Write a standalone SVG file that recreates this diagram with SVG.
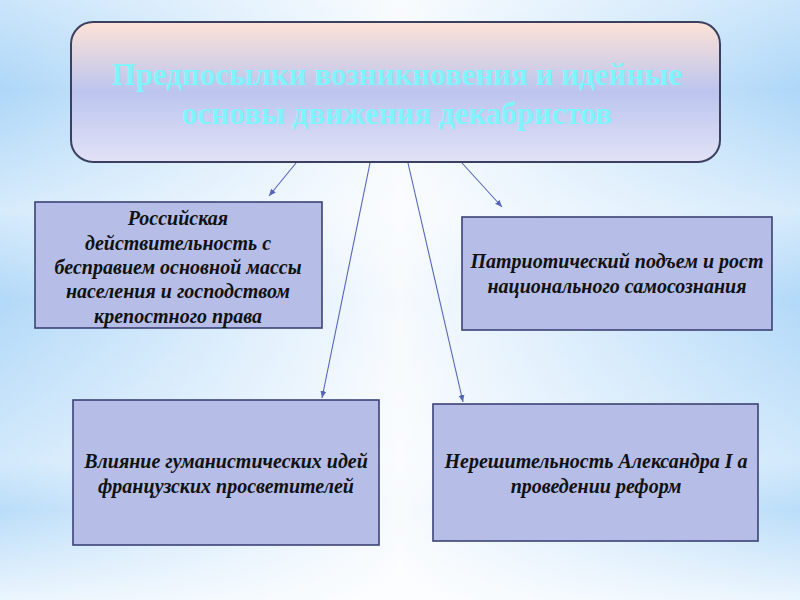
<svg xmlns="http://www.w3.org/2000/svg" width="800" height="600" viewBox="0 0 800 600">
  <defs>
    <linearGradient id="bgH" x1="0" y1="0" x2="1" y2="0">
      <stop offset="0" stop-color="#aed7f8"/>
      <stop offset="0.5" stop-color="#f6fafe"/>
      <stop offset="1" stop-color="#aed7f8"/>
    </linearGradient>
    <linearGradient id="bgV" x1="0" y1="0" x2="0" y2="1">
      <stop offset="0" stop-color="#ffffff" stop-opacity="0.35"/>
      <stop offset="0.15" stop-color="#ffffff" stop-opacity="0"/>
      <stop offset="0.35" stop-color="#ffffff" stop-opacity="0.5"/>
      <stop offset="0.5" stop-color="#ffffff" stop-opacity="0.05"/>
      <stop offset="0.77" stop-color="#ffffff" stop-opacity="0.45"/>
      <stop offset="0.85" stop-color="#ffffff" stop-opacity="0.15"/>
      <stop offset="1" stop-color="#ffffff" stop-opacity="0.75"/>
    </linearGradient>
    <linearGradient id="mainFill" x1="0" y1="0" x2="0" y2="1">
      <stop offset="0" stop-color="#fde2d6"/>
      <stop offset="0.5" stop-color="#bcc5ef"/>
      <stop offset="1" stop-color="#e2e2f6"/>
    </linearGradient>
    <marker id="arr" markerWidth="8" markerHeight="8" refX="7" refY="4" orient="auto" markerUnits="userSpaceOnUse">
      <path d="M0,1 L7,4 L0,7 Z" fill="#5566b8"/>
    </marker>
    <style>
      .box { fill: #b6bee7; stroke: #3c4376; stroke-width: 1.6; }
      .t { font-family: "Liberation Serif", "Times New Roman", serif; font-style: italic; font-weight: bold; font-size: 20px; fill: #111111; text-anchor: middle; }
      .title { font-family: "Liberation Serif", "Times New Roman", serif; font-weight: bold; font-size: 31px; fill: #80f4fb; text-anchor: middle; }
      .conn { stroke: #5566b8; stroke-width: 1.1; fill: none; marker-end: url(#arr); }
    </style>
  </defs>

  <rect x="0" y="0" width="800" height="600" fill="url(#bgH)"/>
  <rect x="0" y="0" width="800" height="600" fill="url(#bgV)"/>

  <g id="main">
    <rect x="71" y="22" width="649" height="140" rx="22" ry="22" fill="url(#mainFill)" stroke="#3c4060" stroke-width="2"/>
    <text class="title" x="397" y="85">Предпосылки возникновения и идейные</text>
    <text class="title" x="397" y="124">основы движения декабристов</text>
  </g>

  <g id="connectors">
    <line class="conn" x1="296" y1="163" x2="269" y2="196"/>
    <line class="conn" x1="370" y1="163" x2="322" y2="398"/>
    <line class="conn" x1="408" y1="163" x2="463" y2="402"/>
    <line class="conn" x1="462" y1="163" x2="502" y2="207"/>
  </g>

  <g id="n1">
    <rect class="box" x="35" y="202" width="287" height="126"/>
    <text class="t" x="178" y="225">Российская</text>
    <text class="t" x="178" y="250">действительность с</text>
    <text class="t" x="178" y="274">бесправием основной массы</text>
    <text class="t" x="178" y="298">населения и господством</text>
    <text class="t" x="178" y="323">крепостного права</text>
  </g>

  <g id="n2">
    <rect class="box" x="462" y="217" width="310" height="113"/>
    <text class="t" x="617" y="268">Патриотический подъем и рост</text>
    <text class="t" x="617" y="293">национального самосознания</text>
  </g>

  <g id="n3">
    <rect class="box" x="73" y="400" width="306" height="145"/>
    <text class="t" x="226" y="468">Влияние гуманистических идей</text>
    <text class="t" x="226" y="493">французских  просветителей</text>
  </g>

  <g id="n4">
    <rect class="box" x="433" y="404" width="325" height="137"/>
    <text class="t" x="596" y="468">Нерешительность Александра I а</text>
    <text class="t" x="596" y="493">проведении реформ</text>
  </g>
</svg>
